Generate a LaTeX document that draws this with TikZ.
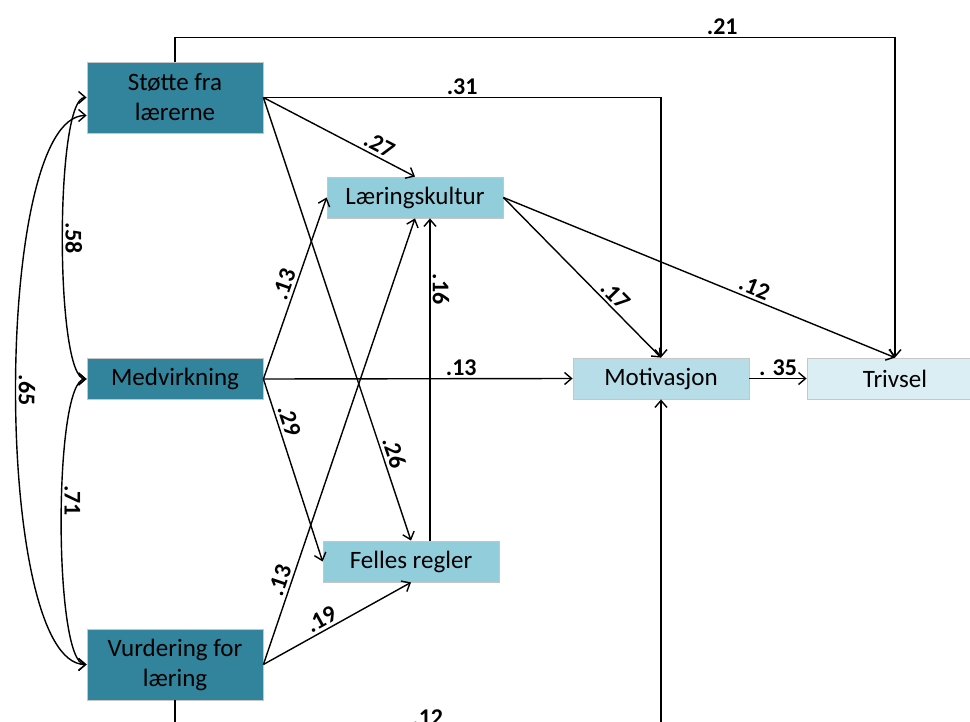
\documentclass[tikz,border=0pt]{standalone}
\usepackage{fontspec}
\setmainfont{Carlito}
\usetikzlibrary{arrows.meta}
\definecolor{tealdark}{HTML}{31849B}
\definecolor{tealmid}{HTML}{92CDDC}
\definecolor{teallight}{HTML}{B7DEE8}
\definecolor{tealpale}{HTML}{DAEEF3}
\begin{document}
\begin{tikzpicture}[x=1pt,y=-1pt,
        >={Straight Barb[length=7pt,width=12pt]},
        box/.style={draw=gray!45, line width=0.8pt, minimum width=176pt,
            minimum height=41pt, inner sep=0pt, align=center,
            font=\fontsize{25}{30}\selectfont},
        arr/.style={->, line width=1.4pt},
        cov/.style={<->, line width=1.4pt},
        lbl/.style={font=\fontsize{24}{26}\selectfont\bfseries, inner sep=3pt},
        lblb/.style={lbl, inner sep=2pt}]
    \useasboundingbox (0,0) rectangle (970,722);
    % boxes
    \node[box, fill=tealdark, minimum height=71pt] (st) at (175,97.5) {Støtte fra\\lærerne};
    \node[box, fill=tealdark] (med) at (175,379) {Medvirkning};
    \node[box, fill=tealdark, minimum height=71pt] (vur) at (175,664.5) {Vurdering for\\læring};
    \node[box, fill=tealmid] (lk) at (415,197.5) {Læringskultur};
    \node[box, fill=tealmid] (fel) at (411,561.5) {Felles regler};
    \node[box, fill=teallight] (mot) at (661,378.5) {Motivasjon};
    \node[box, fill=tealpale] (tri) at (895,378.5) {Trivsel};
    % paths
    \draw[arr] (st.north) -- ++(0,-24) -| (tri.north)
        node[lblb, pos=0.38, above] {.21};
    \draw[arr] (st.east) -| (mot.north)
        node[lblb, pos=0.25, above] {.31};
    \draw[arr] (st.east) -- (lk.north)
        node[lbl, pos=0.73, sloped, above] {.27};
    \draw[arr] (st.east) -- (fel.north)
        node[lbl, pos=0.81, sloped, above] {.26};
    \draw[arr] (med.east) -- (lk.west)
        node[lbl, pos=0.5, sloped, above] {.13};
    \draw[arr] (med.east) -- (fel.west)
        node[lbl, pos=0.25, sloped, above] {.29};
    \draw[arr] (med.east) -- (mot.west)
        node[lblb, pos=0.64, above] {.13};
    \draw[arr] (vur.east) -- (lk.south)
        node[lbl, pos=0.18, sloped, above] {.13};
    \draw[arr] (vur.east) -- (fel.south)
        node[lbl, pos=0.43, sloped, above] {.19};
    \draw[arr] ([xshift=19pt]fel.north) -- ([xshift=19pt]fel.north |- lk.south)
        node[lblb, pos=0.78, rotate=-90, anchor=south] {.16};
    \draw[arr] (lk.east) -- (mot.north)
        node[lbl, pos=0.66, sloped, above] {.17};
    \draw[arr] (lk.east) -- (tri.north)
        node[lbl, pos=0.63, sloped, above] {.12};
    \draw[arr] (mot.east) -- (tri.west)
        node[lblb, midway, above] {. 35};
    \draw[arr] (vur.south) -- ++(0,27) -| (mot.south)
        node[lblb, pos=0.26, above, inner sep=1pt] {.12};
    % correlations
    \draw[cov] (st.west) to[out=180, in=180, looseness=0.29]
        node[lblb, rotate=-90, anchor=south] {.58} (med.west);
    \draw[cov] (med.west) to[out=180, in=180, looseness=0.3]
        node[lblb, pos=0.45, rotate=-90, anchor=south] {.71} (vur.west);
    \draw[cov] ([yshift=-18pt]st.west) to[out=180, in=180, looseness=0.44]
        node[lblb, rotate=-90, anchor=south] {.65} (vur.west);
\end{tikzpicture}
\end{document}
